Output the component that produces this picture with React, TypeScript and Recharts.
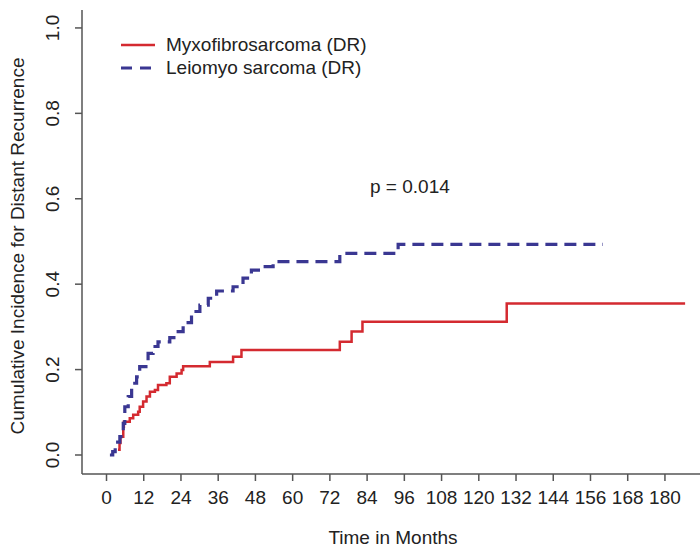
import React from 'react';
import { LineChart, Line, XAxis, YAxis, Legend, Customized } from 'recharts';

const monthTicks = [0, 12, 24, 36, 48, 60, 72, 84, 96, 108, 120, 132, 144, 156, 168, 180];
const incidenceTicks = [0, 0.2, 0.4, 0.6, 0.8, 1.0];

const myxoTimes = [3.7, 4.2, 4.5, 5.4, 5.6, 7.5, 8.6, 10.2, 10.7, 11.8, 12.9, 14.0, 15.6, 16.6, 19.3, 20.4, 22.6, 24.2, 24.7, 33.3, 40.8, 43.5, 75.2, 79.0, 82.5, 129.0, 186.5];
const myxoValues = [0.012, 0.028, 0.043, 0.066, 0.078, 0.086, 0.094, 0.101, 0.113, 0.125, 0.137, 0.148, 0.152, 0.164, 0.168, 0.183, 0.191, 0.199, 0.208, 0.218, 0.230, 0.246, 0.265, 0.289, 0.312, 0.355, 0.355];

const leioTimes = [1.1, 2.0, 2.8, 3.6, 4.3, 5.4, 5.9, 7.0, 8.1, 9.7, 10.7, 13.4, 15.0, 16.6, 20.4, 23.1, 24.7, 27.4, 30.1, 32.8, 35.5, 40.8, 44.0, 46.7, 50.5, 53.7, 75.2, 94.0, 160.0];
const leioValues = [0, 0.008, 0.018, 0.030, 0.043, 0.074, 0.113, 0.137, 0.168, 0.183, 0.207, 0.238, 0.254, 0.265, 0.275, 0.289, 0.310, 0.336, 0.351, 0.367, 0.384, 0.394, 0.414, 0.433, 0.441, 0.453, 0.472, 0.493, 0.493];

const seriesNames = ['Myxofibrosarcoma (DR)', 'Leiomyo sarcoma (DR)'];
const pValueText = 'p = 0.014';
const xTitle = 'Time in Months';
const yTitle = 'Cumulative Incidence for Distant Recurrence';

const myxoData = myxoTimes.map((t, i) => ({ t, v: myxoValues[i] }));
const leioData = leioTimes.map((t, i) => ({ t, v: leioValues[i] }));

const FONT = '"Liberation Sans", Arial, Helvetica, sans-serif';
const TEXT = '#222';
const AXIS = '#555';
const RED = '#d42a30';
const BLUE = '#3a3792';
const DASH = '12 7';

const XTick = (props: any) => {
  const { x, y, payload } = props;
  return (
    <text x={x} y={y + 14} textAnchor="middle" dominantBaseline="central" fontSize={19} fontFamily={FONT} fill={TEXT}>
      {payload.value}
    </text>
  );
};

const YTick = (props: any) => {
  const { x, y, payload } = props;
  const cx = x - 20;
  return (
    <text x={cx} y={y} transform={`rotate(-90, ${cx}, ${y})`} textAnchor="middle" dominantBaseline="central" fontSize={19} fontFamily={FONT} fill={TEXT}>
      {Number(payload.value).toFixed(1)}
    </text>
  );
};

const renderLegend = (props: any) => {
  const payload = [...(props.payload || [])].sort(
    (a: any, b: any) => seriesNames.indexOf(a.value) - seriesNames.indexOf(b.value)
  );
  return (
    <div style={{ fontFamily: FONT, fontSize: 19, color: TEXT }}>
      {payload.map((p: any, i: number) => {
        const dashed = p.value === seriesNames[1];
        return (
          <div key={i} style={{ display: 'flex', alignItems: 'center', height: 23 }}>
            <svg width={36} height={10} style={{ marginRight: 10 }}>
              <line x1={1} y1={5} x2={35} y2={5} stroke={p.color} strokeWidth={dashed ? 3.2 : 2.5} strokeDasharray={dashed ? '11 8' : undefined} />
            </svg>
            <span style={{ lineHeight: '23px' }}>{p.value}</span>
          </div>
        );
      })}
    </div>
  );
};

const Annotations = () => (
  <g fontFamily={FONT} fill={TEXT}>
    <text x={370} y={186} fontSize={19} dominantBaseline="central">{pValueText}</text>
    <text x={393} y={537} fontSize={19} textAnchor="middle" dominantBaseline="central">{xTitle}</text>
    <text x={17} y={246} fontSize={19} textAnchor="middle" dominantBaseline="central" transform="rotate(-90, 17, 246)">{yTitle}</text>
  </g>
);

export default function App() {
  return (
    <div style={{ position: 'absolute', left: 0, top: 0, background: '#fff' }}>
      <LineChart width={700} height={548} margin={{ top: 10, right: 0, bottom: 0, left: 0 }}>
        <XAxis
          type="number"
          dataKey="t"
          domain={[-7.9, 191.3]}
          ticks={monthTicks}
          allowDataOverflow
          height={74}
          tickSize={7}
          tick={<XTick />}
          axisLine={{ stroke: AXIS, strokeWidth: 1.5 }}
          tickLine={{ stroke: AXIS, strokeWidth: 1.5 }}
          interval={0}
        />
        <YAxis
          type="number"
          dataKey="v"
          domain={[-0.0445, 1.042]}
          ticks={incidenceTicks}
          allowDataOverflow
          width={82}
          tickSize={7}
          tick={<YTick />}
          axisLine={{ stroke: AXIS, strokeWidth: 1.5 }}
          tickLine={{ stroke: AXIS, strokeWidth: 1.5 }}
          interval={0}
        />
        <Line
          data={myxoData}
          dataKey="v"
          name={seriesNames[0]}
          type="stepAfter"
          stroke={RED}
          strokeWidth={2.5}
          dot={false}
          activeDot={false}
          isAnimationActive={false}
        />
        <Line
          data={leioData}
          dataKey="v"
          name={seriesNames[1]}
          type="stepAfter"
          stroke={BLUE}
          strokeWidth={3.2}
          strokeDasharray={DASH}
          dot={false}
          activeDot={false}
          isAnimationActive={false}
        />
        <Legend
          layout="vertical"
          align="center"
          verticalAlign="middle"
          content={renderLegend}
          wrapperStyle={{ left: 120, top: 33, width: 300, height: 50 }}
        />
        <Customized component={Annotations} />
      </LineChart>
    </div>
  );
}
